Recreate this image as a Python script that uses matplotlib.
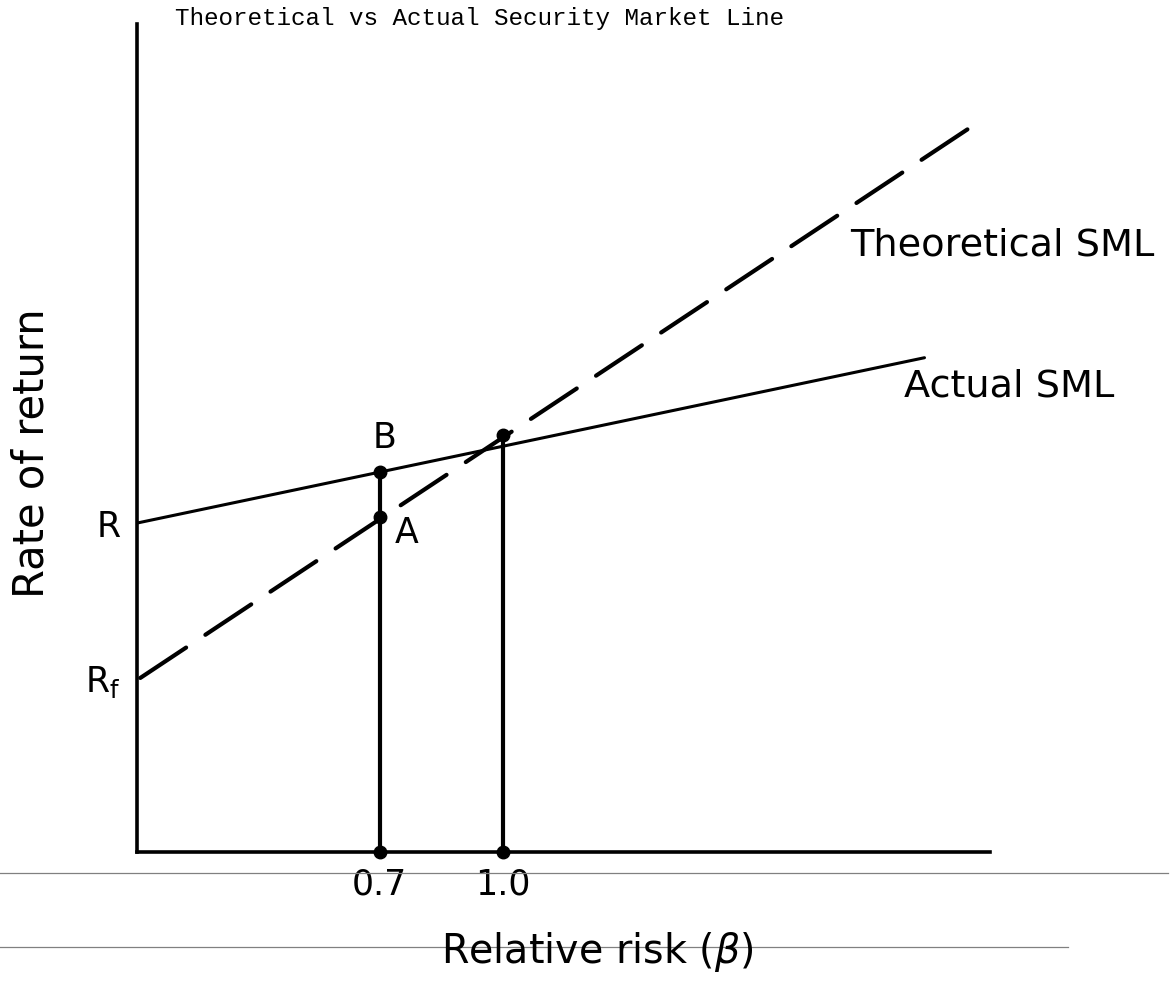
import numpy as np
import matplotlib.pyplot as plt
from matplotlib.lines import Line2D

plt.rcParams["font.family"] = "DejaVu Sans"
plt.rcParams["mathtext.fontset"] = "dejavusans"

# not-to-scale diagram, x = beta, y = return (arbitrary units)
actual_beta = [0.107, 2.03]
actual_ret = [7.56, 11.36]
theo_beta = [0.115, 2.14]
theo_ret = [4.0, 16.64]

point_beta = [0.7, 0.7, 1.0]
point_ret = [8.74, 7.70, 9.59]   # B, A, market point

xtick_vals = [0.7, 1.0]
xtick_labels = ["0.7", "1.0"]
ytick_vals = [4.0, 7.56]
ytick_labels = [r"R$_\mathrm{f}$", "R"]

fig = plt.figure(figsize=(11.72, 9.83), dpi=100)
ax = fig.add_axes([137/1172, 131/983, 853/1172, 828/983])
ax.set_xlim(0.107, 2.19)
ax.set_ylim(0, 19.03)

ax.plot(actual_beta, actual_ret, color="black", lw=2.2, solid_capstyle="round")
ax.plot(theo_beta, theo_ret, color="black", lw=3, dashes=(13.2, 5.55),
        dash_capstyle="round", clip_on=False)

# vertical drops from the points to the x axis
ax.vlines(point_beta[0], 0, point_ret[0], color="black", lw=3)
ax.vlines(point_beta[2], 0, point_ret[2], color="black", lw=3)

ax.plot(point_beta, point_ret, "o", color="black", ms=9, zorder=5)
ax.plot(xtick_vals, [0, 0], "o", color="black", ms=9, zorder=5, clip_on=False)

ax.annotate("B", (point_beta[0], point_ret[0]), xytext=(3.5, 24),
            textcoords="offset points", ha="center", va="center", fontsize=25)
ax.annotate("A", (point_beta[1], point_ret[1]), xytext=(19, -11.5),
            textcoords="offset points", ha="center", va="center", fontsize=25)

ax.text(2.22, 13.95, "Theoretical SML", ha="center", va="center", fontsize=27.5)
ax.text(2.237, 10.71, "Actual SML", ha="center", va="center", fontsize=27.5)

ax.set_xticks(xtick_vals)
ax.set_xticklabels(xtick_labels)
ax.set_yticks(ytick_vals)
ax.set_yticklabels(ytick_labels)
ax.tick_params(length=0, labelsize=25)
ax.tick_params(axis="x", pad=11)
ax.tick_params(axis="y", pad=12)

ax.spines["right"].set_visible(False)
ax.spines["top"].set_visible(False)
ax.spines["left"].set_linewidth(2.6)
ax.spines["bottom"].set_linewidth(2.6)

fig.text(597/1172, 1 - 952/983, r"Relative risk ($\beta$)", ha="center",
         va="center", fontsize=28.5)
fig.text(32/1172, 1 - 453/983, "Rate of return", ha="center", va="center",
         rotation=90, fontsize=30)
fig.text(175/1172, 1 - 18/983, "Theoretical vs Actual Security Market Line",
         ha="left", va="center", fontsize=17.5, family="Liberation Mono")

# faint ruled lines from the scanned page
fig.add_artist(Line2D([0, 1168/1172], [1 - 873/983] * 2, color="#808080", lw=0.9))
fig.add_artist(Line2D([0, 1068/1172], [1 - 947/983] * 2, color="#808080", lw=0.9))

fig.savefig("out.png", dpi=100)
